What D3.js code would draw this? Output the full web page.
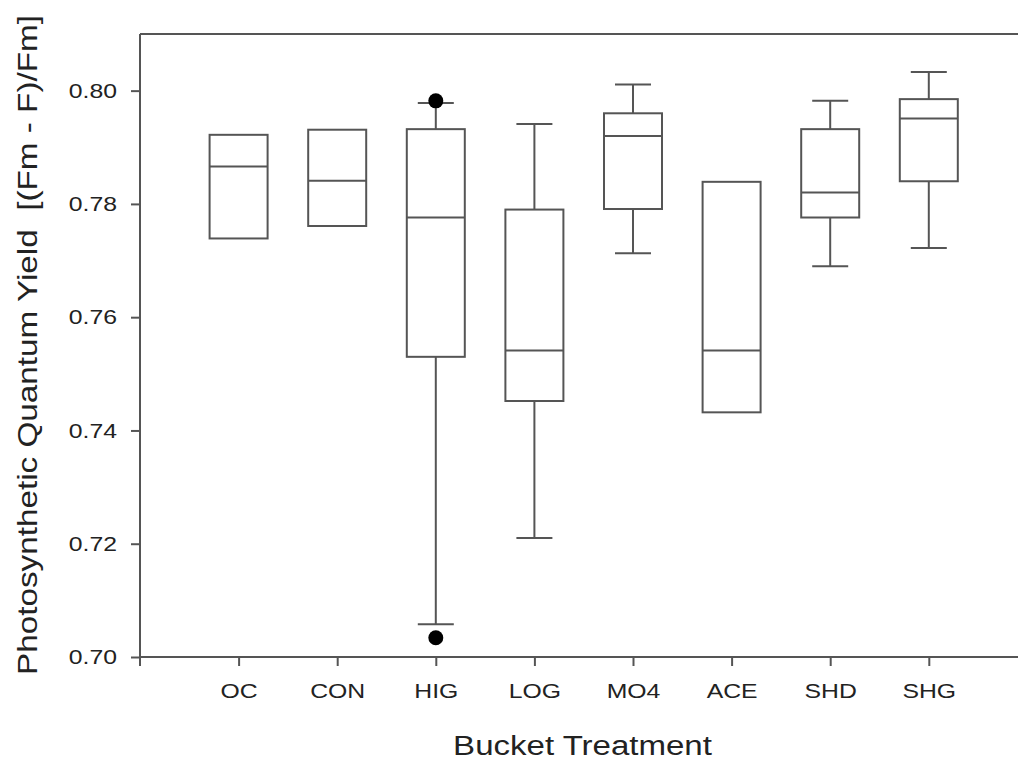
<!DOCTYPE html>
<html>
<head>
<meta charset="utf-8">
<script src="https://cdn.jsdelivr.net/npm/d3@7"></script>
<style>
  body { margin: 0; background: #fff; }
  text { font-family: "Liberation Sans", Arial, sans-serif; fill: #222; }
</style>
</head>
<body>
<svg width="1018" height="767"></svg>
<script>
// groups on the x axis
const treatments = ["OC", "CON", "HIG", "LOG", "MO4", "ACE", "SHD", "SHG"];
// box statistics (null = no whisker drawn)
const q1      = [0.7739, 0.7761, 0.7530, 0.7452, 0.7791, 0.7432, 0.7776, 0.7840];
const medians = [0.7866, 0.7841, 0.7776, 0.7541, 0.7920, 0.7541, 0.7820, 0.7951];
const q3      = [0.7922, 0.7931, 0.7932, 0.7790, 0.7960, 0.7839, 0.7932, 0.7985];
const whiskLo = [null, null, 0.7058, 0.7210, 0.7713, null, 0.7690, 0.7722];
const whiskHi = [null, null, 0.7978, 0.7941, 0.8011, null, 0.7982, 0.8033];
// outliers: [group index, value]
const outliers = [[2, 0.7982], [2, 0.7034]];
const yTicks = [0.70, 0.72, 0.74, 0.76, 0.78, 0.80];

const svg = d3.select("svg");
const plotLeft = 140, plotTop = 34, plotBottom = 657, step = 98.6;
const stretch = 1.18; // text in the picture is a bit wide

const x = d3.scaleLinear().domain([0, treatments.length + 1]).range([plotLeft, plotLeft + step * (treatments.length + 1)]);
const y = d3.scaleLinear().domain([0.70, 0.81]).range([plotBottom, plotTop]);

const stroke = "#555", sw = 2;
const boxW = 58, capW = 36;

// top frame line
svg.append("line")
  .attr("x1", plotLeft).attr("x2", 1018)
  .attr("y1", plotTop).attr("y2", plotTop)
  .attr("stroke", stroke).attr("stroke-width", sw);

// y axis
const yAxis = svg.append("g")
  .attr("transform", `translate(${plotLeft},0)`)
  .call(d3.axisLeft(y).tickValues(yTicks).tickFormat(d3.format(".2f")).tickSize(9).tickPadding(14).tickSizeOuter(0));
yAxis.select(".domain").remove();
yAxis.append("line").attr("x1", 0).attr("x2", 0).attr("y1", plotTop).attr("y2", plotBottom + 9)
  .attr("stroke", stroke).attr("stroke-width", sw);
yAxis.selectAll(".tick line").attr("stroke", stroke).attr("stroke-width", sw);
yAxis.selectAll(".tick text")
  .attr("font-size", 21).attr("fill", "#222")
  .attr("x", -23 / stretch)
  .attr("transform", `scale(${stretch},1)`);

// x axis
const xAxis = svg.append("g")
  .attr("transform", `translate(0,${plotBottom})`)
  .call(d3.axisBottom(x).tickValues(d3.range(1, treatments.length + 1))
    .tickFormat(i => treatments[i - 1]).tickSize(9).tickPadding(17).tickSizeOuter(0));
xAxis.select(".domain").remove();
xAxis.append("line").attr("x1", plotLeft).attr("x2", 1018).attr("y1", 0).attr("y2", 0)
  .attr("stroke", stroke).attr("stroke-width", sw);
xAxis.selectAll(".tick line").attr("stroke", stroke).attr("stroke-width", sw);
xAxis.selectAll(".tick text")
  .attr("font-size", 21).attr("fill", "#222")
  .attr("transform", `scale(${stretch},1)`);

// boxes
const data = treatments.map((t, i) => ({
  i: i + 1, q1: q1[i], med: medians[i], q3: q3[i], lo: whiskLo[i], hi: whiskHi[i]
}));

const g = svg.append("g").attr("fill", "none").attr("stroke", stroke).attr("stroke-width", sw);

data.forEach(d => {
  const cx = x(d.i);
  if (d.hi !== null) {
    g.append("line").attr("x1", cx).attr("x2", cx).attr("y1", y(d.q3)).attr("y2", y(d.hi));
    g.append("line").attr("x1", cx - capW / 2).attr("x2", cx + capW / 2).attr("y1", y(d.hi)).attr("y2", y(d.hi));
  }
  if (d.lo !== null) {
    g.append("line").attr("x1", cx).attr("x2", cx).attr("y1", y(d.q1)).attr("y2", y(d.lo));
    g.append("line").attr("x1", cx - capW / 2).attr("x2", cx + capW / 2).attr("y1", y(d.lo)).attr("y2", y(d.lo));
  }
  g.append("rect")
    .attr("x", cx - boxW / 2).attr("width", boxW)
    .attr("y", y(d.q3)).attr("height", y(d.q1) - y(d.q3))
    .attr("fill", "#fff");
  g.append("line").attr("x1", cx - boxW / 2).attr("x2", cx + boxW / 2).attr("y1", y(d.med)).attr("y2", y(d.med));
});

// outlier dots
svg.selectAll(".outlier")
  .data(outliers)
  .enter().append("circle")
  .attr("class", "outlier")
  .attr("cx", d => x(d[0] + 1))
  .attr("cy", d => y(d[1]))
  .attr("r", 7.5)
  .attr("fill", "#000");

// axis titles
svg.append("text")
  .attr("transform", `translate(${(448 + 717) / 2},755) scale(${stretch},1)`)
  .attr("text-anchor", "middle")
  .attr("font-size", 28)
  .text("Bucket Treatment");

svg.append("text")
  .attr("transform", "translate(37,345) rotate(-90)")
  .attr("text-anchor", "middle")
  .attr("font-size", 28)
  .style("white-space", "pre")
  .attr("textLength", 660)
  .attr("lengthAdjust", "spacingAndGlyphs")
  .text("Photosynthetic Quantum Yield  [(Fm - F)/Fm]");
</script>
</body>
</html>
